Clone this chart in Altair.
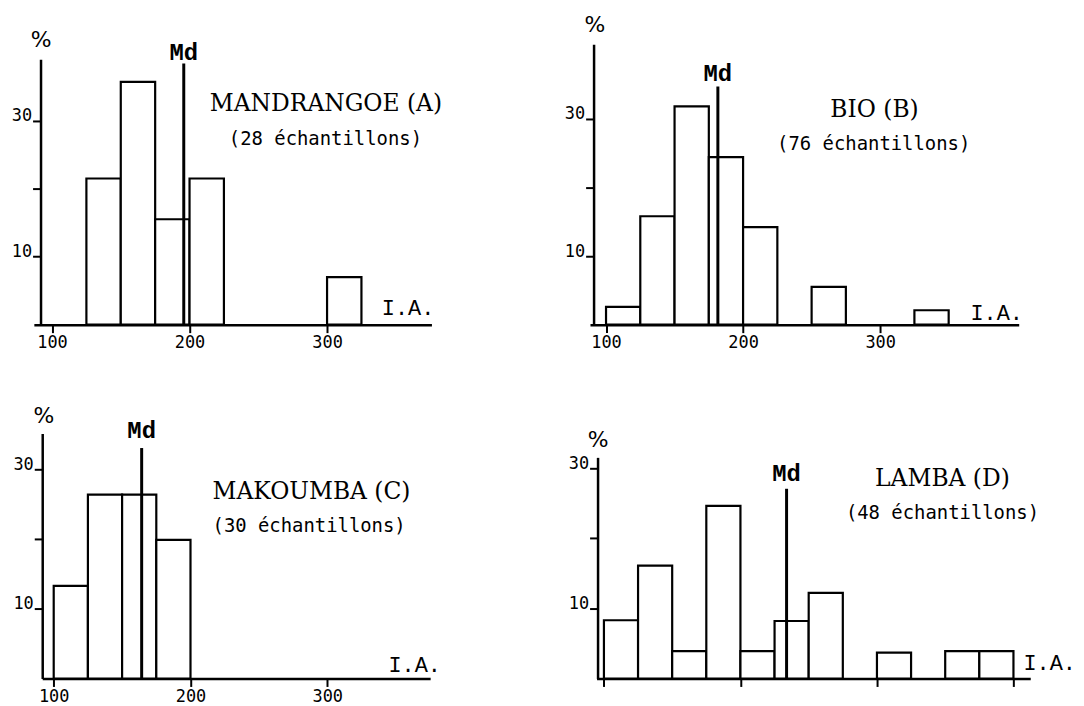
import altair as alt
import pandas as pd

BIN_WIDTH = 25

# ---- data (class start of I.A. bins, % of samples) ----
a_bin_start = [125, 150, 175, 200, 300]
a_percent = [21.5, 35.7, 15.5, 21.5, 7.0]
a_median = 195.8
a_median_top = 38.4

b_bin_start = [100, 125, 150, 175, 200, 250, 325]
b_percent = [2.6, 15.8, 31.8, 24.4, 14.2, 5.5, 2.1]
b_median = 181.6
b_median_top = 34.7

c_bin_start = [100, 125, 150, 175]
c_percent = [13.3, 26.4, 26.4, 19.9]
c_median = 164.3
c_median_top = 33.1

d_bin_start = [100, 125, 150, 175, 200, 225, 250, 300, 350, 375]
d_percent = [8.3, 16.1, 3.9, 24.6, 3.9, 8.2, 12.2, 3.7, 3.9, 3.9]
d_median = 233.8
d_median_top = 27.05

titles = ["MANDRANGOE (A)", "BIO (B)", "MAKOUMBA (C)", "LAMBA (D)"]
subtitles = ["(28 échantillons)", "(76 échantillons)", "(30 échantillons)", "(48 échantillons)"]
x_tick_values = [100, 200, 300]
d_tick_values = [100, 200, 300, 400]
y_tick_values = [10, 20, 30]

# ---- layout / style (not data) ----
layout = [
    dict(w=393, h=281.8, xdom=[86.8, 375.9], xr=[-6.7, 393], ydom=[0, 39.03], yr=[281.8, 15],
         yoff=0, tpos=(299.2, 32.4), spos=(298.8, 27.3), talign="center", mddy=-11,
         pct=(0, -4.5), ia=(369, -16.8), xlabels=True),
    dict(w=439, h=281.8, xdom=[88.3, 401.1], xr=[-3.6, 427.4], ydom=[0, 40.84], yr=[281.8, 0],
         yoff=0, tpos=(295.9, 31.2), spos=(295.3, 26.3), talign="center", mddy=-13,
         pct=(0.7, -20), ia=(404.8, -11.8), xlabels=True),
    dict(w=393, h=246.3, xdom=[91.6, 375.2], xr=[1.7, 391.7], ydom=[0, 35.19], yr=[246.3, 0],
         yoff=-1.7, tpos=(216.1, 26.76), spos=(216.1, 21.9), talign="left", mddy=-17,
         pct=(1.3, -17.7), ia=(375.6, -14), xlabels=True),
    dict(w=439, h=246.3, xdom=[94.6, 412.3], xr=[3, 439], ydom=[0, 31.53], yr=[246.3, 24],
         yoff=-4, tpos=(348, 28.5), spos=(348, 23.6), talign="center", mddy=-15,
         pct=(0, 5.6), ia=(458, -15.7), xlabels=False),
]

MONO = "DejaVu Sans Mono"


def panel(i, starts, pcts, md, md_top):
    L = layout[i]
    df = pd.DataFrame({"lo": starts, "hi": [s + BIN_WIDTH for s in starts], "pct": pcts})
    xscale = alt.Scale(domain=L["xdom"], range=L["xr"], nice=False, zero=False)
    yscale = alt.Scale(domain=L["ydom"], range=L["yr"], nice=False, zero=False)
    xaxis = alt.Axis(
        values=d_tick_values if not L["xlabels"] else x_tick_values,
        labels=L["xlabels"], format="d", labelFont=MONO, labelFontSize=17, labelColor="black",
        labelPadding=2, labelFlush=False, labelOverlap=False,
        tickColor="black", tickSize=8, tickWidth=2, domainColor="black", domainWidth=2.5,
        grid=False, title="I.A.", titleFont="Liberation Mono", titleFontSize=22,
        titleFontWeight="normal", titleColor="black", titleAngle=0, titleAlign="center",
        titleBaseline="middle", titleX=L["ia"][0], titleY=L["ia"][1],
    )
    yaxis = alt.Axis(
        values=y_tick_values, labelExpr="datum.value == 20 ? '' : datum.label",
        labelFont=MONO, labelFontSize=17, labelColor="black", labelBaseline="alphabetic",
        labelAlign="right", labelPadding=1, labelFlush=False, labelOverlap=False,
        tickColor="black", tickSize=8, tickWidth=2, domainColor="black", domainWidth=2.5,
        grid=False, offset=L["yoff"], title="%", titleFont="DejaVu Sans", titleFontSize=22,
        titleFontWeight="normal", titleColor="black", titleAngle=0, titleAlign="center",
        titleBaseline="middle", titleX=L["pct"][0], titleY=L["pct"][1],
    )
    bars = alt.Chart(df).mark_rect(fill="white", stroke="black", strokeWidth=2.2).encode(
        x=alt.X("lo:Q", scale=xscale, axis=xaxis),
        x2="hi:Q",
        y=alt.Y("pct:Q", scale=yscale, axis=yaxis),
        y2=alt.datum(0),
    )
    mdf = pd.DataFrame({"lo": [md], "pct": [md_top], "base": [0], "label": ["Md"]})
    rule = alt.Chart(mdf).mark_rule(color="black", strokeWidth=3).encode(
        x="lo:Q", y="pct:Q", y2="base:Q"
    )
    mdtext = alt.Chart(mdf).mark_text(
        font="Liberation Mono", fontSize=24, fontWeight="bold", color="black",
        align="center", baseline="middle", dy=L["mddy"]
    ).encode(x="lo:Q", y="pct:Q", text="label:N")
    tdf = pd.DataFrame({"lo": [L["tpos"][0]], "pct": [L["tpos"][1]], "label": [titles[i]]})
    sdf = pd.DataFrame({"lo": [L["spos"][0]], "pct": [L["spos"][1]], "label": [subtitles[i]]})
    ttext = alt.Chart(tdf).mark_text(
        font="DejaVu Serif", fontSize=23.5, color="black", align=L["talign"], baseline="middle"
    ).encode(x="lo:Q", y="pct:Q", text="label:N")
    stext = alt.Chart(sdf).mark_text(
        font=MONO, fontSize=19, color="black", align=L["talign"], baseline="middle"
    ).encode(x="lo:Q", y="pct:Q", text="label:N")
    return alt.layer(bars, rule, mdtext, ttext, stext).properties(width=L["w"], height=L["h"])


pA = panel(0, a_bin_start, a_percent, a_median, a_median_top)
pB = panel(1, b_bin_start, b_percent, b_median, b_median_top)
pC = panel(2, c_bin_start, c_percent, c_median, c_median_top)
pD = panel(3, d_bin_start, d_percent, d_median, d_median_top)

chart = alt.concat(
    pA, pB, pC, pD, columns=2, spacing={"row": 109.2, "column": 163}, bounds="flush", align="each"
).properties(
    padding={"left": 2.7, "top": 3.7, "right": 0, "bottom": 0},
    background="white",
).configure_view(strokeWidth=0)

chart.save("out.html", embed_options={"renderer": "svg", "actions": False})
